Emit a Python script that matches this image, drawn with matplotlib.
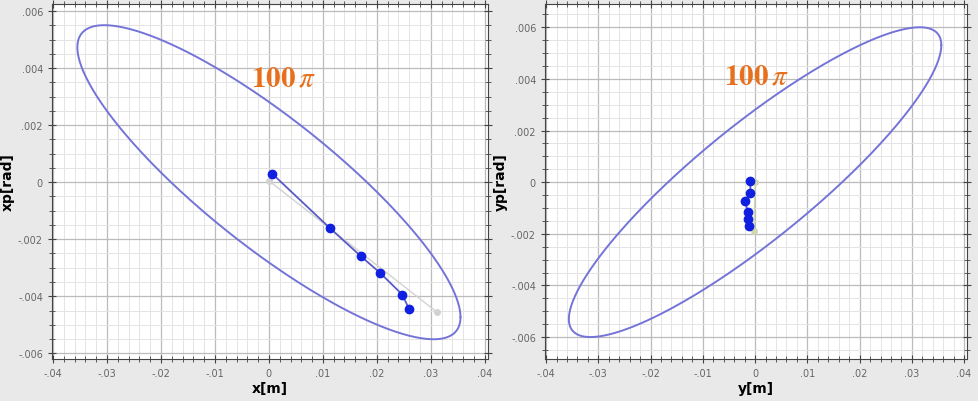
import numpy as np
import matplotlib
matplotlib.use("Agg")
import matplotlib.pyplot as plt
from matplotlib.ticker import MultipleLocator, FuncFormatter

# emittance 100 pi mm.mrad and Twiss parameters of the acceptance ellipses
emittance = 100e-6
beta_x, alpha_x = 12.6, 1.68
beta_y, alpha_y = 12.7, -1.89

# beam centroid positions (blue) and start/end reference (gray)
x_pts = [0.0006, 0.0113, 0.0170, 0.0206, 0.0247, 0.0260]
xp_pts = [0.00030, -0.00161, -0.00259, -0.00318, -0.00394, -0.00446]
x_ref = [0.0, 0.0311]
xp_ref = [0.00005, -0.00455]

y_pts = [-0.0009, -0.0009, -0.0019, -0.0014, -0.0013, -0.0012]
yp_pts = [0.00004, -0.00041, -0.00074, -0.00117, -0.00143, -0.00169]
y_ref = [0.0, -0.0002]
yp_ref = [0.0, -0.00188]

x_ticks = [-0.04, -0.03, -0.02, -0.01, 0, 0.01, 0.02, 0.03, 0.04]
p_ticks = [-0.006, -0.004, -0.002, 0, 0.002, 0.004, 0.006]
label_text = r"$\mathbf{100}\,\pi$"

plt.rcParams["mathtext.fontset"] = "stix"


def ellipse(beta, alpha, eps, n=400):
    t = np.linspace(0, 2 * np.pi, n)
    u = np.sqrt(eps * beta) * np.cos(t)
    up = -np.sqrt(eps / beta) * (alpha * np.cos(t) + np.sin(t))
    return u, up


def short(v, nd):
    if abs(v) < 1e-12:
        return "0"
    s = f"{v:.{nd}f}"
    return s.replace("0.", ".", 1)


def style_axes(ax, xlabel, ylabel, ylim):
    ax.set_xlim(-0.0402, 0.0406)
    ax.set_ylim(*ylim)
    ax.set_xticks(x_ticks)
    ax.set_yticks(p_ticks)
    ax.xaxis.set_minor_locator(MultipleLocator(0.002))
    ax.yaxis.set_minor_locator(MultipleLocator(0.0005))
    ax.xaxis.set_major_formatter(FuncFormatter(lambda v, p: short(v, 2)))
    ax.yaxis.set_major_formatter(FuncFormatter(lambda v, p: short(v, 3)))
    ax.tick_params(which="both", direction="inout", top=True, right=True,
                   labelsize=7, labelcolor="#666666", color="#444444")
    ax.tick_params(which="major", length=6)
    ax.tick_params(which="minor", length=4)
    ax.grid(which="major", color="#bbbbbb", lw=0.9)
    ax.grid(which="minor", color="#e4e4e4", lw=0.7)
    ax.set_axisbelow(True)
    for s in ax.spines.values():
        s.set_color("#444444")
    ax.set_xlabel(xlabel, fontsize=10, fontweight="bold", labelpad=2)
    ax.set_ylabel(ylabel, fontsize=10, fontweight="bold", labelpad=2)


fig = plt.figure(figsize=(9.79, 4.02), dpi=100, facecolor="#e9e9e9")
ax1 = fig.add_axes([0.0531, 0.1045, 0.4454, 0.883])
ax2 = fig.add_axes([0.5567, 0.1045, 0.4313, 0.883])

# left: horizontal phase space
ex, exp_ = ellipse(beta_x, alpha_x, emittance)
ax1.plot(ex, exp_, color="#7474d8", lw=1.4, solid_capstyle="round")
ax1.plot(x_ref, xp_ref, color="#d2d2d2", lw=1.0, marker="o", ms=4)
ax1.plot(x_pts, xp_pts, color="#5a5ac8", lw=1.3)
ax1.plot(x_pts, xp_pts, ls="none", marker="o", ms=6, color="#1020e0")
ax1.text(0.0026, 0.00368, label_text, color="#e8701c", fontsize=21,
         ha="center", va="center")
style_axes(ax1, "x[m]", "xp[rad]", (-0.0062, 0.00625))

# right: vertical phase space
ey, eyp = ellipse(beta_y, alpha_y, emittance)
ax2.plot(ey, eyp, color="#7474d8", lw=1.4, solid_capstyle="round")
ax2.plot(y_ref, yp_ref, color="#d0d8b0", lw=1.0, marker="o", ms=4)
ax2.plot(y_pts, yp_pts, color="#5a5ac8", lw=1.3)
ax2.plot(y_pts, yp_pts, ls="none", marker="o", ms=6, color="#1020e0")
ax2.text(0.0002, 0.00414, label_text, color="#e8701c", fontsize=21,
         ha="center", va="center")
style_axes(ax2, "y[m]", "yp[rad]", (-0.00685, 0.0069))

fig.savefig("out.png", dpi=100, facecolor=fig.get_facecolor())
